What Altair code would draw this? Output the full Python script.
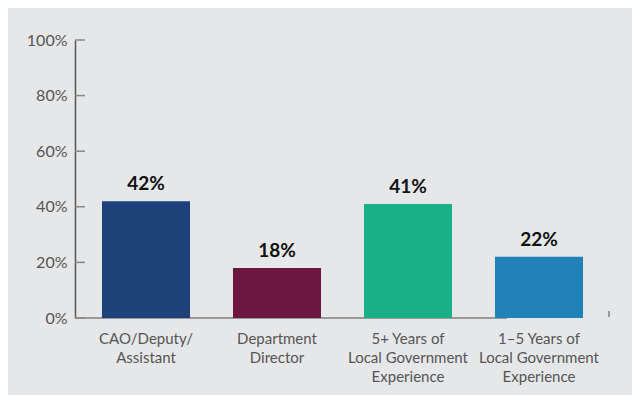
import altair as alt
import pandas as pd

categories = ["CAO/Deputy/|Assistant", "Department|Director",
              "5+ Years of|Local Government|Experience",
              "1–5 Years of|Local Government|Experience"]
values = [42, 18, 41, 22]
colors = ["#1f4179", "#6c1741", "#1ab189", "#2181b9"]
y_ticks = [0, 20, 40, 60, 80, 100]

df = pd.DataFrame({"cat": categories, "val": values, "color": colors,
                   "lab": [f"{v}%" for v in values]})
ticks_df = pd.DataFrame({"t": y_ticks})

W, H = 535, 278
FONT = "Lato"

x = alt.X("cat:N", sort=categories, title=None,
          scale=alt.Scale(paddingInner=0.328, paddingOuter=0.206),
          axis=alt.Axis(labelExpr="split(datum.label, '|')", labelAngle=0,
                        labelFont=FONT, labelFontSize=15, labelColor="#555555",
                        labelLineHeight=19, labelPadding=13, labelBaseline="top",
                        ticks=False, domain=False))
y = alt.Y("val:Q", title=None,
          scale=alt.Scale(domain=[0, 100]),
          axis=alt.Axis(values=y_ticks, labelExpr="datum.value + '%'",
                        labelFont=FONT, labelFontSize=16, labelColor="#555555",
                        labelPadding=8, ticks=False, grid=False,
                        domainColor="#555555", domainWidth=1.5))

bars = alt.Chart(df).mark_bar().encode(
    x=x, y=y, color=alt.Color("color:N", scale=None))

text = alt.Chart(df).mark_text(font=FONT, fontSize=19, fontWeight="bold",
                               color="#111111", baseline="bottom", dy=-7).encode(
    x=alt.X("cat:N", sort=categories), y="val:Q", text="lab:N")

tick_marks = alt.Chart(ticks_df).mark_rule(color="#888888", strokeWidth=1.5).encode(
    x=alt.value(0), x2=alt.value(10), y=alt.Y("t:Q"))

baseline = alt.Chart(pd.DataFrame({"t": [0]})).mark_rule(color="#999999", strokeWidth=2).encode(
    x=alt.value(0), x2=alt.value(432), y=alt.Y("t:Q"))

end_tick = alt.Chart(pd.DataFrame({"t": [0]})).mark_rule(color="#999999", strokeWidth=2).encode(
    x=alt.value(534), y=alt.value(H - 7), y2=alt.value(H - 1))

chart = alt.layer(baseline, bars, tick_marks, end_tick, text).properties(
    width=W, height=H, background="#e6e7e9",
    autosize=alt.AutoSizeParams(type="none"),
    padding={"left": 67, "top": 32, "right": 22, "bottom": 77},
).configure_view(stroke=None)

chart.save("out.html", embed_options={"renderer": "svg", "actions": False})
